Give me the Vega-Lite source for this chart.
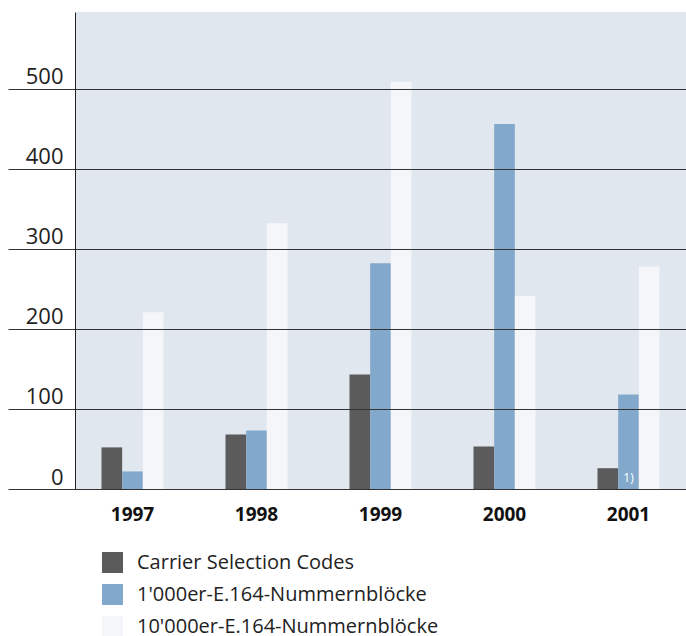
{
  "$schema": "https://vega.github.io/schema/vega-lite/v6.json",
  "width": 611,
  "height": 477,
  "autosize": {"type": "none"},
  "padding": {"left": 75, "top": 12, "right": 0, "bottom": 147},
  "background": "white",
  "config": {
    "view": {"fill": "#e1e7ef", "stroke": null},
    "font": "Open Sans"
  },
  "data": {
    "values": [
      {"year": "1997", "series": "Carrier Selection Codes", "value": 52},
      {"year": "1997", "series": "1'000er-E.164-Nummernblöcke", "value": 22},
      {"year": "1997", "series": "10'000er-E.164-Nummernblöcke", "value": 221},
      {"year": "1998", "series": "Carrier Selection Codes", "value": 68},
      {"year": "1998", "series": "1'000er-E.164-Nummernblöcke", "value": 73},
      {"year": "1998", "series": "10'000er-E.164-Nummernblöcke", "value": 332},
      {"year": "1999", "series": "Carrier Selection Codes", "value": 143},
      {"year": "1999", "series": "1'000er-E.164-Nummernblöcke", "value": 282},
      {"year": "1999", "series": "10'000er-E.164-Nummernblöcke", "value": 509},
      {"year": "2000", "series": "Carrier Selection Codes", "value": 53},
      {"year": "2000", "series": "1'000er-E.164-Nummernblöcke", "value": 456},
      {"year": "2000", "series": "10'000er-E.164-Nummernblöcke", "value": 241},
      {"year": "2001", "series": "Carrier Selection Codes", "value": 26},
      {"year": "2001", "series": "1'000er-E.164-Nummernblöcke", "value": 118, "note": "1)"},
      {"year": "2001", "series": "10'000er-E.164-Nummernblöcke", "value": 278}
    ]
  },
  "encoding": {
    "x": {
      "field": "year",
      "type": "nominal",
      "scale": {"paddingInner": 0.5, "paddingOuter": 0.2137},
      "axis": {
        "title": null,
        "domain": false,
        "ticks": false,
        "labelAngle": 0,
        "labelFontSize": 19,
        "labelFontWeight": "bold",
        "labelColor": "#111",
        "labelPadding": 16
      }
    },
    "xOffset": {
      "field": "series",
      "sort": ["Carrier Selection Codes", "1'000er-E.164-Nummernblöcke", "10'000er-E.164-Nummernblöcke"],
      "scale": {"paddingInner": 0, "paddingOuter": 0}
    }
  },
  "layer": [
    {
      "mark": {"type": "bar"},
      "encoding": {
        "y": {
          "field": "value",
          "type": "quantitative",
          "scale": {"domain": [0, 596], "nice": false},
          "axis": {
            "title": null,
            "values": [0, 100, 200, 300, 400, 500],
            "grid": true,
            "gridColor": "#333",
            "gridWidth": 1,
            "gridOpacity": 1,
            "ticks": true,
            "tickSize": 67,
            "tickColor": "#333",
            "tickWidth": 1,
            "domain": true,
            "domainColor": "#222",
            "domainWidth": 1,
            "labelPadding": -55,
            "labelAlign": "right",
            "labelBaseline": "alphabetic",
            "labelOffset": -5,
            "labelFontSize": 22,
            "labelColor": "#222",
            "zindex": 1
          }
        },
        "color": {
          "field": "series",
          "type": "nominal",
          "scale": {
            "domain": ["Carrier Selection Codes", "1'000er-E.164-Nummernblöcke", "10'000er-E.164-Nummernblöcke"],
            "range": ["#5b5b5b", "#82a9cb", "#f4f6f9"]
          },
          "legend": {
            "title": null,
            "orient": "none",
            "legendX": 27,
            "legendY": 540,
            "symbolType": "square",
            "symbolSize": 441,
            "symbolStrokeWidth": 0,
            "symbolOpacity": 1,
            "labelFontSize": 20,
            "labelColor": "#222",
            "labelOffset": 14,
            "rowPadding": 11,
            "padding": 0,
            "labelLimit": 400,
            "encode": {
              "symbols": {
                "update": {
                  "fill": {"signal": "datum.index === 2 ? '#e6eaf3' : scale('color', datum.value)"}
                }
              }
            }
          }
        }
      }
    },
    {
      "transform": [{"filter": "datum.note"}],
      "mark": {"type": "text", "color": "white", "fontSize": 12, "baseline": "alphabetic", "dy": -7},
      "encoding": {
        "y": {"datum": 0, "type": "quantitative"},
        "text": {"field": "note"}
      }
    }
  ]
}
